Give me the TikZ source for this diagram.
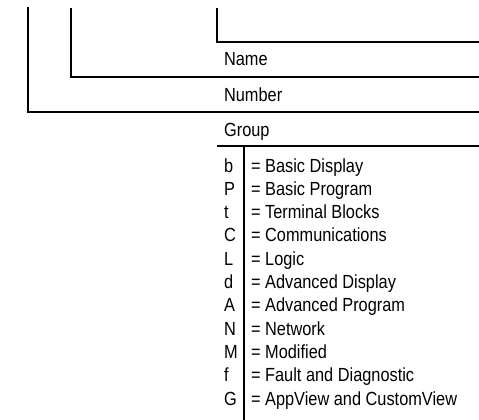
\documentclass[tikz,border=0pt]{standalone}
\usepackage{fontspec}
\setmainfont{Liberation Sans}[FakeStretch=0.86]
\begin{document}
\begin{tikzpicture}[x=1pt,y=-1pt,line width=2.2pt,
  lbl/.style={anchor=base west,inner sep=0pt,font=\fontsize{19}{21}\selectfont}]
\useasboundingbox (0,0) rectangle (479,420);
% bracket lines
\coordinate (a1) at (28,7);   \coordinate (a2) at (28,112);  \coordinate (a3) at (479,112);
\coordinate (b1) at (71,8);   \coordinate (b2) at (71,77);   \coordinate (b3) at (479,77);
\coordinate (c1) at (217,8);  \coordinate (c2) at (217,42);  \coordinate (c3) at (479,42);
\coordinate (g1) at (217,146); \coordinate (g2) at (479,146);
\coordinate (d1) at (244,146); \coordinate (d2) at (244,420);
\draw (a1) -- (a2) -- (a3);
\draw (b1) -- (b2) -- (b3);
\draw (c1) -- (c2) -- (c3);
\draw (g1) -- (g2);
\draw (d1) -- (d2);
% labels
\node[lbl] (name) at (223,66) {Name};
\node[lbl] (number) at (223,101) {Number};
\node[lbl] (group) at (223,136) {Group};
\foreach \l/\t [count=\i from 0] in {b/Basic Display,P/Basic Program,t/Terminal Blocks,C/Communications,L/Logic,d/Advanced Display,A/Advanced Program,N/Network,M/Modified,f/Fault and Diagnostic,G/AppView and CustomView}{
  \node[lbl] (k\i) at (223,172+23.3*\i) {\l};
  \node[lbl] (v\i) at (250,172+23.3*\i) {= \t};
}
\end{tikzpicture}
\end{document}
